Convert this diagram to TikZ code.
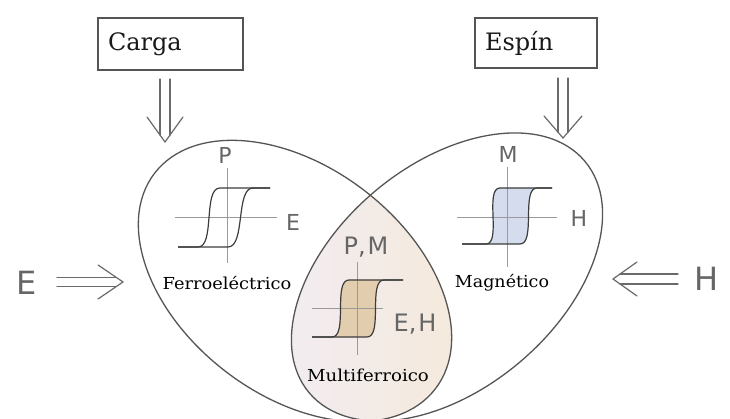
\documentclass[tikz,border=0pt]{standalone}
\usepackage{fontspec}
\usepackage{graphicx}
\setmainfont{DejaVu Serif}
\newfontfamily\handsans{DejaVu Sans}
\usetikzlibrary{calc}
\definecolor{ovalc}{HTML}{555555}
\definecolor{arrc}{HTML}{6A6A6A}
\definecolor{axisc}{HTML}{9A9A9A}
\definecolor{loopc}{HTML}{3C3C3C}
\definecolor{handc}{HTML}{666666}
\definecolor{bluefill}{HTML}{D4DCEE}
\definecolor{tanfill}{HTML}{E2CDAE}
\definecolor{interA}{HTML}{F2ECF3}
\definecolor{interB}{HTML}{F4EADB}
\begin{document}
\begin{tikzpicture}[x=1pt,y=1pt,
  oval/.style={draw=ovalc, line width=1.3pt},
  box/.style={draw=ovalc, line width=1.3pt, inner xsep=10pt, inner ysep=0pt, align=left, font=\fontsize{24}{28}\selectfont, text=black!90},
  arr/.style={draw=arrc, line width=1.2pt, line cap=round, line join=miter},
  axisl/.style={draw=axisc, line width=0.9pt},
  loopl/.style={draw=loopc, line width=1.2pt},
  sig/.style={out=0, in=180, looseness=0.7},
  sigb/.style={out=180, in=0, looseness=0.7},
  hand/.style={text=handc, font=\handsans\fontsize{22}{24}\selectfont, inner sep=0pt},
  handmid/.style={text=handc, font=\handsans\fontsize{24}{26}\selectfont, inner sep=0pt},
  bighand/.style={text=handc, font=\handsans\fontsize{32}{34}\selectfont, inner sep=0pt},
  lab/.style={text=black, font=\fontsize{16.5}{19}\selectfont, inner sep=0pt, anchor=base}
]
\useasboundingbox (0,0) rectangle (730,419);
\fill[white] (0,0) rectangle (730,419);

% intersection shading
\begin{scope}
  \clip[rotate around={-37.5:(295,138)}] (295,138) ellipse [x radius=177, y radius=114];
  \clip[rotate around={40:(447,142)}] (447,142) ellipse [x radius=180, y radius=112];
  \shade[left color=interA, right color=interB] (270,0) rectangle (460,240);
\end{scope}

% ovals
\draw[oval, rotate around={-37.5:(295,138)}] (295,138) ellipse [x radius=177, y radius=114];
\draw[oval, rotate around={40:(447,142)}] (447,142) ellipse [x radius=180, y radius=112];

% left loop (ferroelectric)
\draw[axisl] (227,251) -- (227,156);
\draw[axisl] (175,202) -- (277,202);
\draw[loopl] (178,172) -- (228,172) to[sig] (253,231) -- (270,231);
\draw[loopl] (270,231) -- (220,231) to[sigb] (198,172) -- (178,172);

% right loop (magnetic)
\fill[bluefill] (486,175) -- (520,175) to[sig] (537,231) -- (500,231) to[sigb] (486,175) -- cycle;
\draw[axisl] (507,252) -- (507,152);
\draw[axisl] (457,202) -- (557,202);
\draw[loopl] (462,175) -- (520,175) to[sig] (537,231) -- (552,231);
\draw[loopl] (552,231) -- (500,231) to[sigb] (486,175) -- (462,175);

% middle loop (multiferroic)
\fill[tanfill] (332,82) -- (367,82) to[sig] (384,139) -- (349,139) to[sigb] (332,82) -- cycle;
\draw[axisl] (357,157) -- (357,64);
\draw[axisl] (312,111) -- (383,111);
\draw[loopl] (312,82) -- (367,82) to[sig] (384,139) -- (403,139);
\draw[loopl] (403,139) -- (349,139) to[sigb] (332,82) -- (312,82);

% axis letters
\node[hand] (pL) at (225,264) {P};
\node[hand] (eL) at (293,197) {E};
\node[hand] (mR) at (508,265) {M};
\node[hand] (hR) at (579,201) {H};
\node[handmid] (pm) at (366,172) {P,\kern2pt M};
\node[handmid] (eh) at (415,95) {E,\kern2pt H};
\node[bighand] (eOut) at (27,136) {E};
\node[bighand] (hOut) at (707,140) {H};

% region labels
\node[lab] (ferro) at (227,129) {\scalebox{1.08}[1]{Ferroeléctrico}};
\node[lab] (magn) at (502,131) {\scalebox{1.06}[1]{Magnético}};
\node[lab] (multi) at (368,37) {\scalebox{1.1}[1]{Multiferroico}};

% boxes
\node[box, minimum width=145pt, minimum height=52pt, text width=125pt] (carga) at (170.5,375) {Carga};
\node[box, minimum width=122pt, minimum height=50pt, text width=102pt] (espin) at (536,376) {Espín};

% Carga arrow
\coordinate (cS) at (165,340);
\coordinate (cT) at (165,277);
\draw[arr] ([xshift=-5pt]cS) -- ([xshift=-5pt,yshift=7pt]cT);
\draw[arr] ([xshift=5pt]cS) -- ([xshift=5pt,yshift=7pt]cT);
\draw[arr] ([shift={(-18,25)}]cT) -- (cT) -- ([shift={(18,25)}]cT);

% Espin arrow
\coordinate (sS) at (563,341);
\coordinate (sT) at (563,281);
\draw[arr] ([xshift=-5pt]sS) -- ([xshift=-5pt,yshift=6pt]sT);
\draw[arr] ([xshift=5pt]sS) -- ([xshift=5pt,yshift=6pt]sT);
\draw[arr] ([shift={(-19,22)}]sT) -- (sT) -- ([shift={(19,22)}]sT);

% E arrow
\coordinate (eS) at (57,137);
\coordinate (eT) at (123,137);
\draw[arr] ([yshift=4.5pt]eS) -- ([xshift=-6.6pt,yshift=4.5pt]eT);
\draw[arr] ([yshift=-4.5pt]eS) -- ([xshift=-6.6pt,yshift=-4.5pt]eT);
\draw[arr] ([shift={(-25,17)}]eT) -- (eT) -- ([shift={(-25,-17)}]eT);

% H arrow
\coordinate (hS) at (678,140);
\coordinate (hT) at (613,140);
\draw[arr] ([yshift=5pt]hS) -- ([xshift=7pt,yshift=5pt]hT);
\draw[arr] ([yshift=-5pt]hS) -- ([xshift=7pt,yshift=-5pt]hT);
\draw[arr] ([shift={(24,17)}]hT) -- (hT) -- ([shift={(24,-17)}]hT);
\end{tikzpicture}
\end{document}
